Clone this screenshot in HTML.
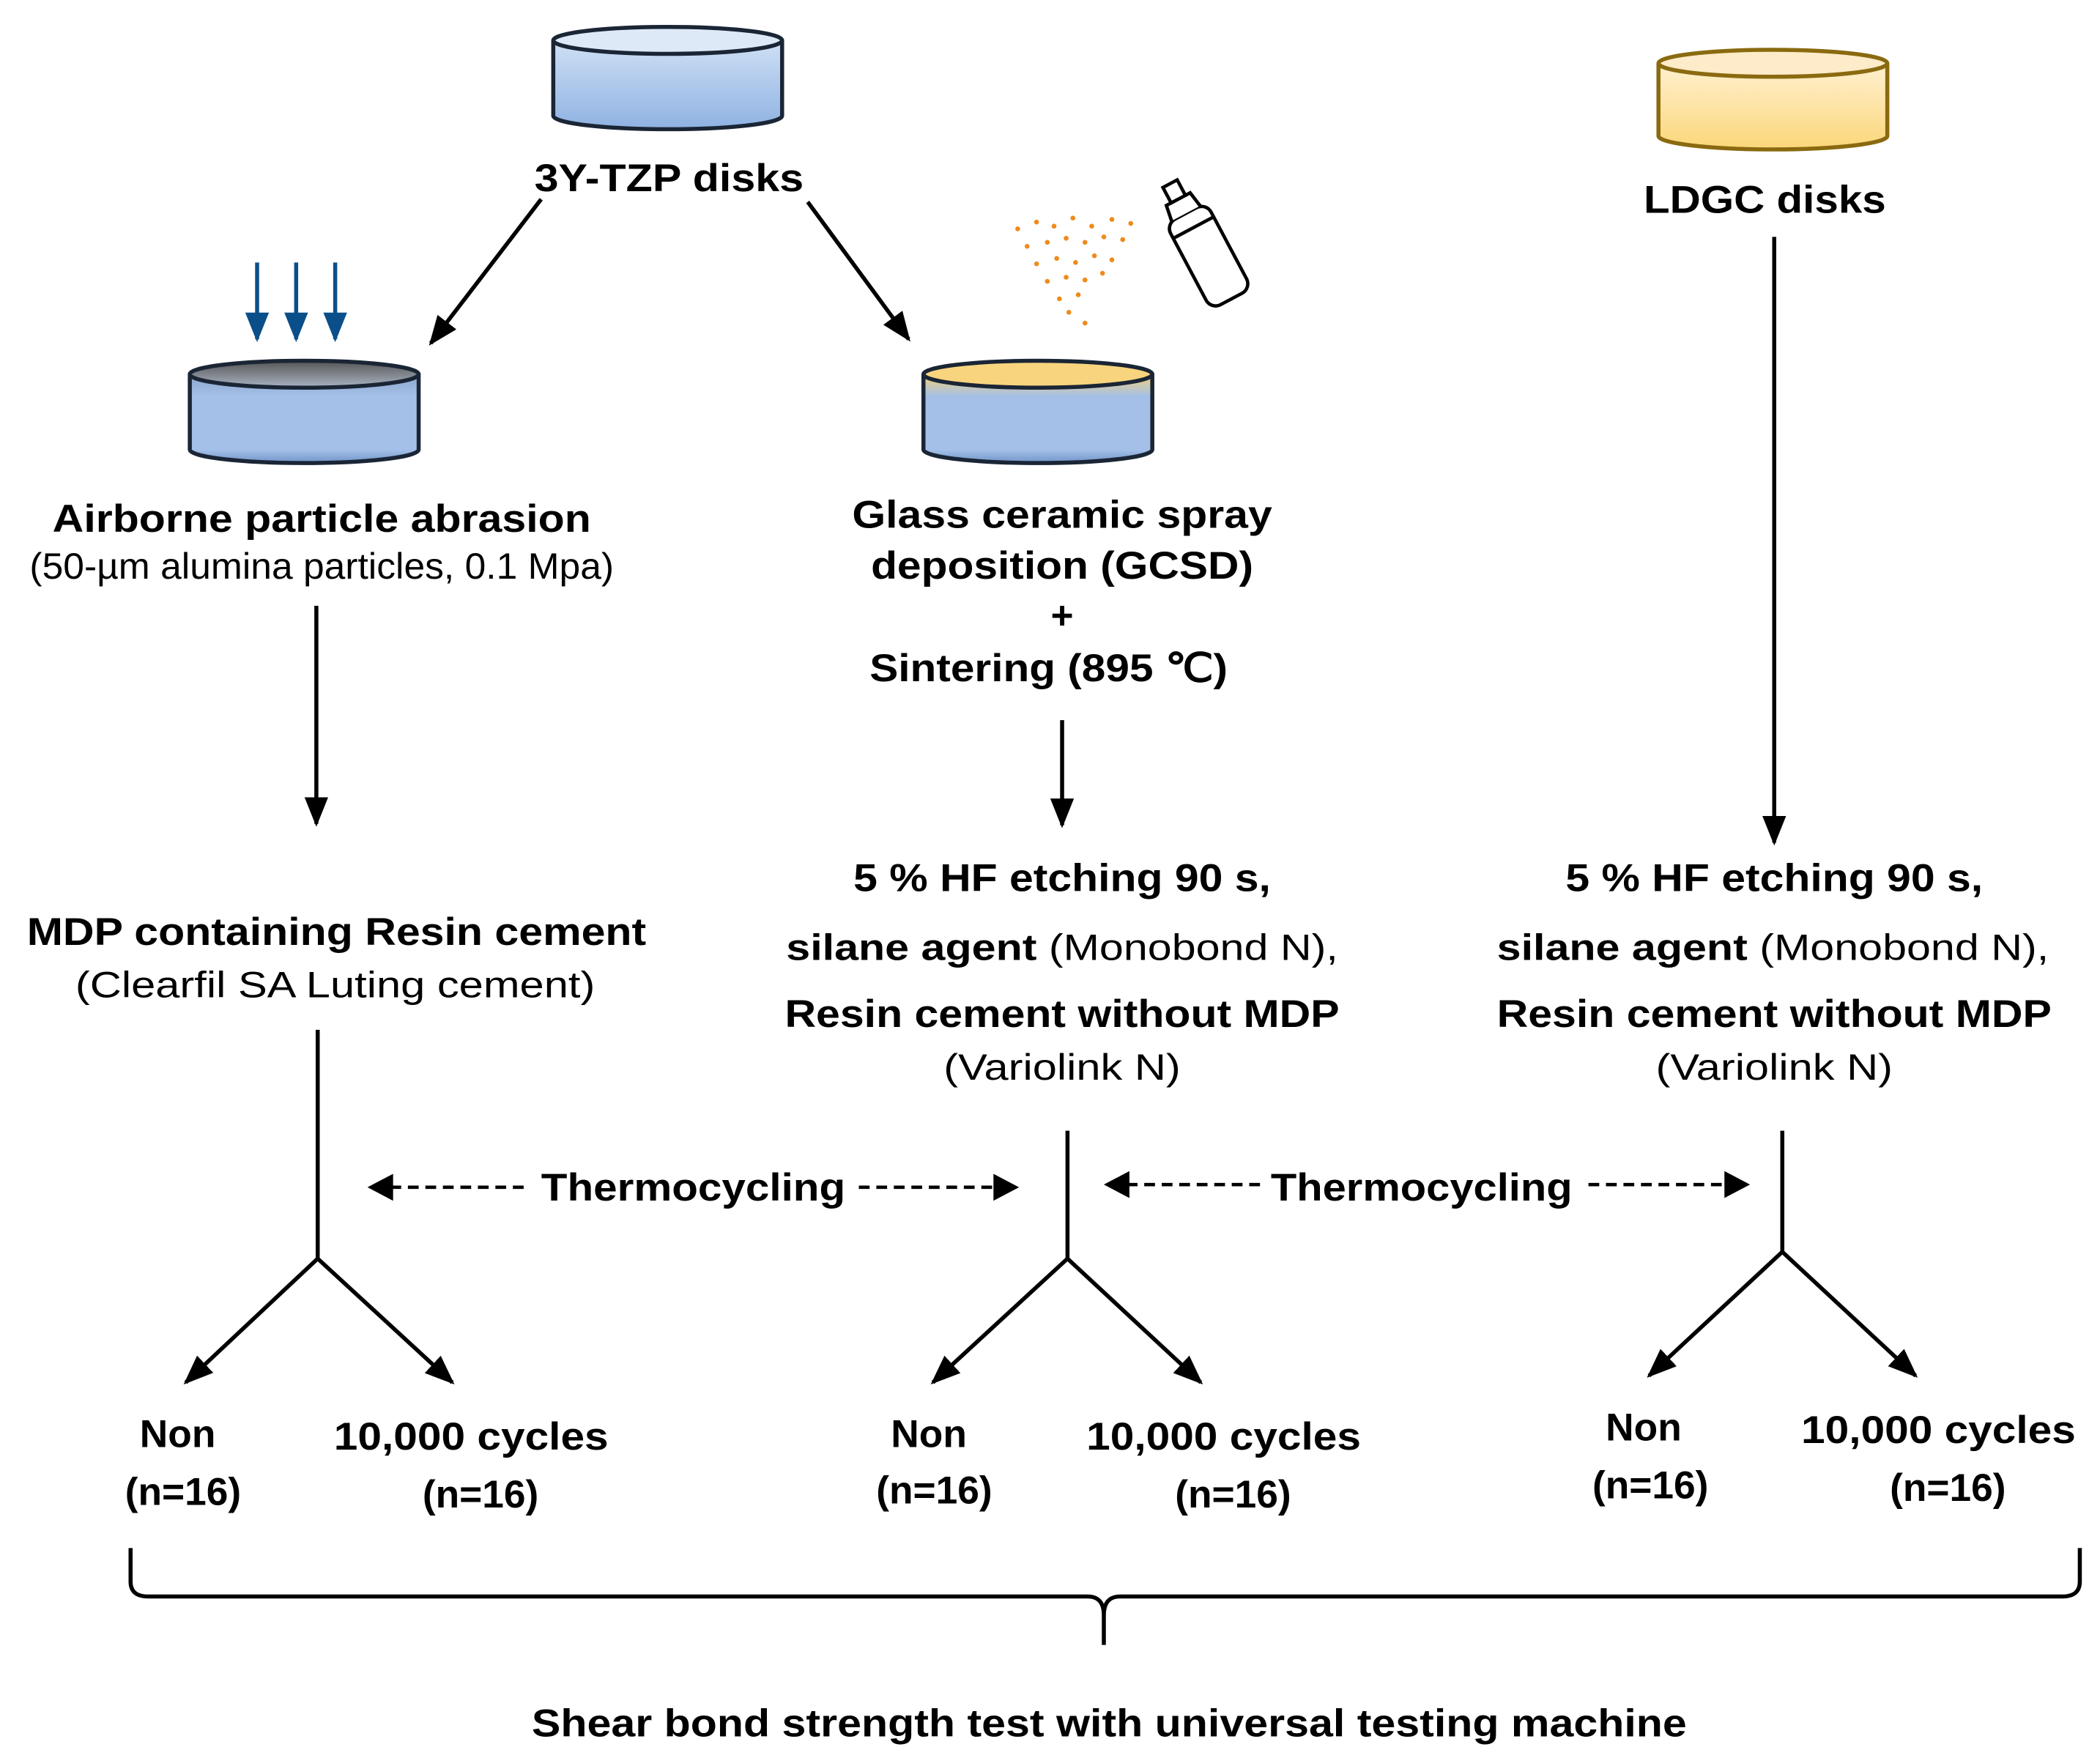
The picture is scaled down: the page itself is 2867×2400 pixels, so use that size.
<!DOCTYPE html>
<html><head><meta charset="utf-8"><style>
html,body{margin:0;padding:0;background:#fff;}
svg{display:block;}
text{font-family:"Liberation Sans",Arial,sans-serif;fill:#000;}
.b{font-weight:bold;font-size:29px;}
.r{font-size:27px;}
</style></head><body>
<svg width="2867" height="2400" viewBox="0 0 1560 1306" preserveAspectRatio="none" xmlns="http://www.w3.org/2000/svg">
<defs>
<linearGradient id="blue" x1="0" y1="0" x2="0" y2="1"><stop offset="0" stop-color="#cfe0f5"/><stop offset="1" stop-color="#8fb2e2"/></linearGradient>
<linearGradient id="yel" x1="0" y1="0" x2="0" y2="1"><stop offset="0" stop-color="#fff0d0"/><stop offset="1" stop-color="#fbd77a"/></linearGradient>
<linearGradient id="gray" x1="0" y1="0" x2="0" y2="1"><stop offset="0" stop-color="#555"/><stop offset="1" stop-color="#aab4c4"/></linearGradient>
<linearGradient id="body2" x1="0" y1="0" x2="0" y2="1"><stop offset="0" stop-color="#8aa6cc"/><stop offset="0.25" stop-color="#a4c0e8"/><stop offset="0.85" stop-color="#a4c0e8"/><stop offset="1" stop-color="#6f93c8"/></linearGradient>
<linearGradient id="body3" x1="0" y1="0" x2="0" y2="1"><stop offset="0" stop-color="#f3d07a"/><stop offset="0.25" stop-color="#a4c0e8"/><stop offset="0.85" stop-color="#a4c0e8"/><stop offset="1" stop-color="#6f93c8"/></linearGradient>
<marker id="ah" viewBox="0 0 10 10" refX="9" refY="5" markerWidth="9" markerHeight="9" markerUnits="userSpaceOnUse" orient="auto"><path d="M0,0 L10,5 L0,10 z" fill="#000"/></marker>
<marker id="ahB" viewBox="0 0 10 10" refX="9" refY="5" markerWidth="22" markerHeight="22" markerUnits="userSpaceOnUse" orient="auto"><path d="M0,1 L10,5 L0,9 z" fill="#000"/></marker>
<marker id="ahBl" viewBox="0 0 10 10" refX="9" refY="5" markerWidth="22" markerHeight="22" markerUnits="userSpaceOnUse" orient="auto"><path d="M0,1 L10,5 L0,9 z" fill="#0b4f8a"/></marker>
</defs>
<!-- Cylinders -->
<g stroke="#1a2535" stroke-width="3">
<path d="M411,30 V86 A85,10 0 0 0 581,86 V30" fill="url(#blue)"/>
<ellipse cx="496" cy="30" rx="85" ry="10" fill="#dde9f7"/>
<path d="M141,278 V334 A85,10 0 0 0 311,334 V278" fill="url(#body2)"/>
<ellipse cx="226" cy="278" rx="85" ry="10" fill="url(#gray)"/>
<path d="M686,278 V334 A85,10 0 0 0 856,334 V278" fill="url(#body3)"/>
<ellipse cx="771" cy="278" rx="85" ry="10" fill="#f8d47e"/>
</g>
<g stroke="#8a6a10" stroke-width="3">
<path d="M1232,47 V101 A85,10 0 0 0 1402,101 V47" fill="url(#yel)"/>
<ellipse cx="1317" cy="47" rx="85" ry="10" fill="#fdebc9"/>
</g>
<!-- blue arrows -->
<g stroke="#0b4f8a" stroke-width="3" marker-end="url(#ahBl)">
<line x1="191" y1="195" x2="191" y2="252"/><line x1="220" y1="195" x2="220" y2="252"/><line x1="249" y1="195" x2="249" y2="252"/>
</g>
<!-- spray bottle -->
<g transform="translate(895,185) rotate(-28)" fill="#fff" stroke="#000" stroke-width="2.5">
<rect x="-17" y="-30" width="34" height="72" rx="8"/>
<path d="M-12,-30 L-10,-42 L10,-42 L12,-30"/>
<rect x="-6" y="-55" width="12" height="13"/>
<line x1="-17" y1="-18" x2="17" y2="-18"/>
</g>
<g fill="#ef8a1c">
<circle cx="756" cy="170" r="1.8"/><circle cx="770" cy="165" r="1.8"/><circle cx="783" cy="168" r="1.8"/><circle cx="797" cy="162" r="1.8"/><circle cx="811" cy="168" r="1.8"/><circle cx="826" cy="163" r="1.8"/><circle cx="840" cy="166" r="1.8"/>
<circle cx="763" cy="183" r="1.8"/><circle cx="778" cy="180" r="1.8"/><circle cx="792" cy="177" r="1.8"/><circle cx="806" cy="180" r="1.8"/><circle cx="820" cy="176" r="1.8"/><circle cx="834" cy="178" r="1.8"/>
<circle cx="770" cy="196" r="1.8"/><circle cx="785" cy="192" r="1.8"/><circle cx="799" cy="195" r="1.8"/><circle cx="813" cy="190" r="1.8"/><circle cx="826" cy="193" r="1.8"/>
<circle cx="778" cy="209" r="1.8"/><circle cx="792" cy="206" r="1.8"/><circle cx="806" cy="208" r="1.8"/><circle cx="819" cy="203" r="1.8"/>
<circle cx="787" cy="222" r="1.8"/><circle cx="801" cy="219" r="1.8"/><circle cx="794" cy="232" r="1.8"/><circle cx="806" cy="240" r="1.8"/>
</g>
<!-- arrows -->
<g stroke="#000" stroke-width="3" fill="none" marker-end="url(#ahB)">
<line x1="402" y1="148" x2="320" y2="255"/>
<line x1="600" y1="150" x2="675" y2="252"/>
<line x1="235" y1="450" x2="235" y2="612"/>
<line x1="789" y1="535" x2="789" y2="613"/>
<line x1="1318" y1="176" x2="1318" y2="626"/>
<line x1="236" y1="935" x2="138" y2="1027"/>
<line x1="236" y1="935" x2="336" y2="1027"/>
<line x1="793" y1="935" x2="693" y2="1027"/>
<line x1="793" y1="935" x2="892" y2="1027"/>
<line x1="1324" y1="930" x2="1225" y2="1022"/>
<line x1="1324" y1="930" x2="1423" y2="1022"/>
</g>
<g stroke="#000" stroke-width="3" fill="none">
<line x1="236" y1="765" x2="236" y2="935"/>
<line x1="793" y1="840" x2="793" y2="935"/>
<line x1="1324" y1="840" x2="1324" y2="930"/>
<path d="M97,1150 V1175 Q97,1186 110,1186 H808 Q820,1186 820,1200 V1222 M820,1200 Q820,1186 832,1186 H1532 Q1545,1186 1545,1175 V1150"/>
<g stroke-dasharray="8,5" stroke-width="2.5">
<line x1="290" y1="882" x2="392" y2="882"/><line x1="638" y1="882" x2="740" y2="882"/>
<line x1="837" y1="880" x2="940" y2="880"/><line x1="1180" y1="880" x2="1283" y2="880"/>
</g>
</g>
<g fill="#000">
<path d="M273,882 L292,872 L292,892 z"/><path d="M757,882 L738,872 L738,892 z"/>
<path d="M820,880 L839,870 L839,890 z"/><path d="M1300,880 L1281,870 L1281,890 z"/>
</g>
<!-- text -->
<g class="b" text-anchor="middle">
<text x="497" y="142" textLength="200" lengthAdjust="spacingAndGlyphs">3Y-TZP disks</text>
<text x="1311" y="158" textLength="180" lengthAdjust="spacingAndGlyphs">LDGC disks</text>
<text x="239" y="395" textLength="400" lengthAdjust="spacingAndGlyphs">Airborne particle abrasion</text>
<text x="789" y="392" textLength="312" lengthAdjust="spacingAndGlyphs">Glass ceramic spray</text>
<text x="789" y="430" textLength="284" lengthAdjust="spacingAndGlyphs">deposition (GCSD)</text>
<text x="789" y="467">+</text>
<text x="779" y="506" textLength="266" lengthAdjust="spacingAndGlyphs">Sintering (895 ℃)</text>
<text x="250" y="702" textLength="460" lengthAdjust="spacingAndGlyphs">MDP containing Resin cement</text>
<text x="789" y="662" textLength="310" lengthAdjust="spacingAndGlyphs">5 % HF etching 90 s,</text>
<text x="789" y="763" textLength="412" lengthAdjust="spacingAndGlyphs">Resin cement without MDP</text>
<text x="1318" y="662" textLength="310" lengthAdjust="spacingAndGlyphs">5 % HF etching 90 s,</text>
<text x="1318" y="763" textLength="412" lengthAdjust="spacingAndGlyphs">Resin cement without MDP</text>
<text x="515" y="892" textLength="226" lengthAdjust="spacingAndGlyphs">Thermocycling</text>
<text x="1056" y="892" textLength="224" lengthAdjust="spacingAndGlyphs">Thermocycling</text>
<text x="132" y="1075">Non</text><text x="136" y="1118">(n=16)</text>
<text x="350" y="1077" textLength="204" lengthAdjust="spacingAndGlyphs">10,000 cycles</text><text x="357" y="1120">(n=16)</text>
<text x="690" y="1075">Non</text><text x="694" y="1117">(n=16)</text>
<text x="909" y="1077" textLength="204" lengthAdjust="spacingAndGlyphs">10,000 cycles</text><text x="916" y="1120">(n=16)</text>
<text x="1221" y="1070">Non</text><text x="1226" y="1113">(n=16)</text>
<text x="1440" y="1072" textLength="204" lengthAdjust="spacingAndGlyphs">10,000 cycles</text><text x="1447" y="1115">(n=16)</text>
<text x="824" y="1290" textLength="858" lengthAdjust="spacingAndGlyphs">Shear bond strength test with universal testing machine</text>
</g>
<g class="r" text-anchor="middle">
<text x="239" y="430" textLength="434" lengthAdjust="spacingAndGlyphs">(50-µm alumina particles, 0.1 Mpa)</text>
<text x="249" y="741" textLength="386" lengthAdjust="spacingAndGlyphs">(Clearfil SA Luting cement)</text>
<text x="789" y="802" textLength="176" lengthAdjust="spacingAndGlyphs">(Variolink N)</text>
<text x="1318" y="802" textLength="176" lengthAdjust="spacingAndGlyphs">(Variolink N)</text>
<text x="789" y="713" textLength="410" lengthAdjust="spacingAndGlyphs"><tspan font-weight="bold">silane agent</tspan> (Monobond N),</text>
<text x="1317" y="713" textLength="410" lengthAdjust="spacingAndGlyphs"><tspan font-weight="bold">silane agent</tspan> (Monobond N),</text>
</g>
</svg>
</body></html>
